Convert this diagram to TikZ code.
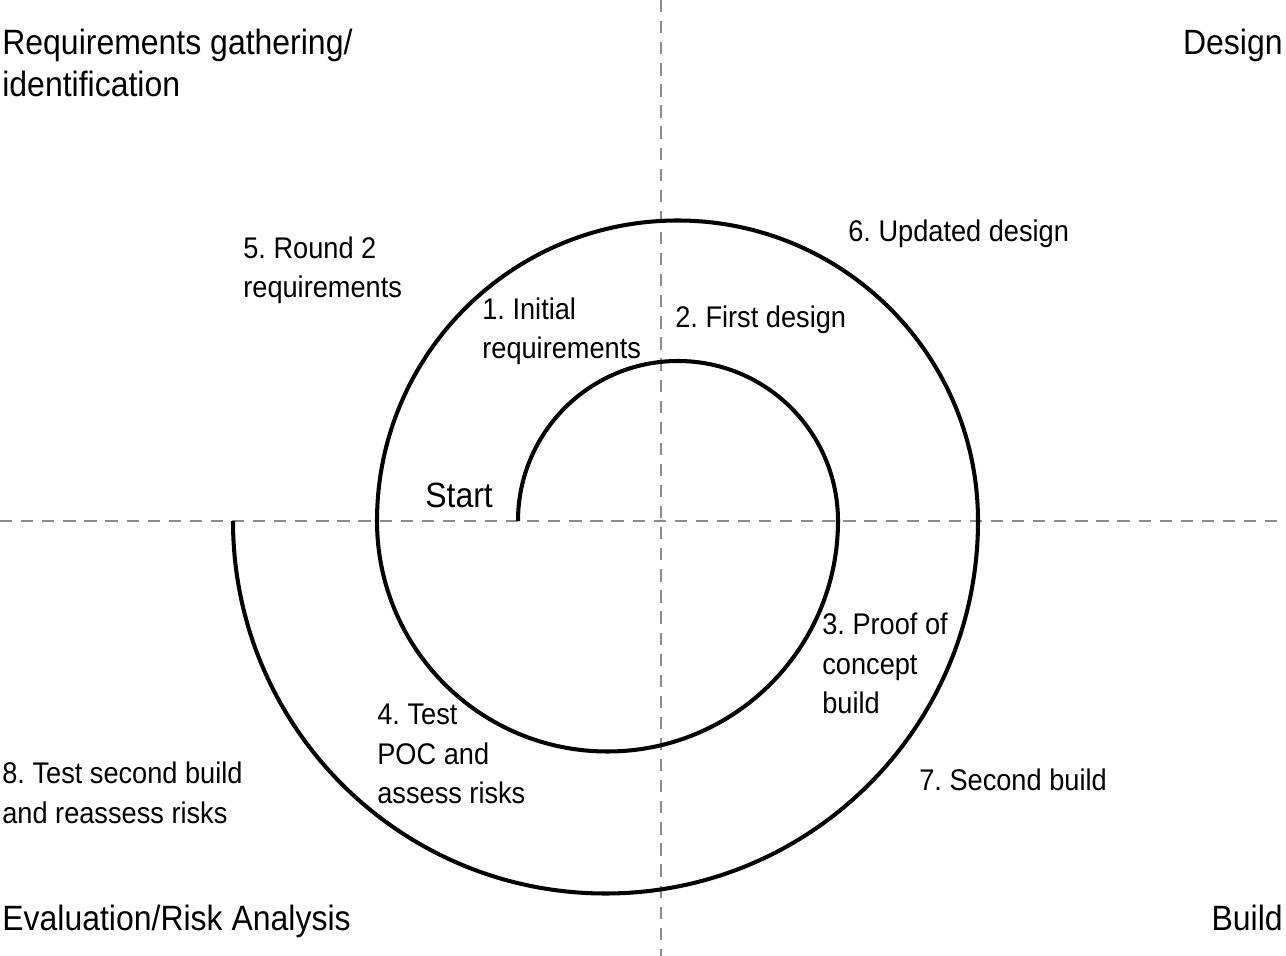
\documentclass[tikz,border=0pt]{standalone}
\usepackage{fontspec}
\setmainfont{Liberation Sans}[FakeStretch=0.91]
\frenchspacing
\begin{document}
\begin{tikzpicture}[x=0.02cm,y=-0.02cm,
  big/.style={inner sep=0,font=\fontsize{20}{24}\selectfont},
  lbl/.style={inner sep=0,font=\fontsize{17}{20}\selectfont,anchor=base west},
  axis/.style={draw=black!45,line width=1.2pt,dash pattern=on 7pt off 5pt},
  spiral/.style={line width=2.3pt}]
\useasboundingbox (0,0) rectangle (1286,956);
\coordinate (vt) at (661,0); \coordinate (vb) at (661,956);
\coordinate (hl) at (0,521); \coordinate (hr) at (1286,521);
\draw[axis] (vt) -- (vb);
\draw[axis] (hl) -- (hr);
\coordinate (s0) at (518,521);
\draw[spiral] (s0) arc[start angle=180,end angle=360,radius=160]
  arc[start angle=0,end angle=180,radius=230.5]
  arc[start angle=180,end angle=360,radius=300.5]
  arc[start angle=0,end angle=180,radius=372.5];
\node[big,anchor=base west] (r1) at (2,55) {Requirements gathering/};
\node[big,anchor=base west] (r2) at (2,97) {identification};
\node[big,anchor=base east] (d) at (1283,55) {Design};
\node[big,anchor=base west] (e) at (2,930) {Evaluation/Risk Analysis};
\node[big,anchor=base east] (b) at (1283,930) {Build};
\node[big,anchor=base west] (st) at (425,507) {Start};
\node[lbl] (a1) at (243,259) {5. Round 2};
\node[lbl] (a2) at (243,298) {requirements};
\node[lbl] (b1) at (482,320) {1. Initial};
\node[lbl] (b2) at (482,359) {requirements};
\node[lbl] (c1) at (675,328) {2. First design};
\node[lbl] (f1) at (848,242) {6. Updated design};
\node[lbl] (p1) at (822,634) {3. Proof of};
\node[lbl] (p2) at (822,674) {concept};
\node[lbl] (p3) at (822,713) {build};
\node[lbl] (t1) at (377,724) {4. Test};
\node[lbl] (t2) at (377,764) {POC and};
\node[lbl] (t3) at (377,803) {assess risks};
\node[lbl] (sb) at (919,790) {7. Second build};
\node[lbl] (g1) at (2,783) {8. Test second build};
\node[lbl] (g2) at (2,823) {and reassess risks};
\end{tikzpicture}
\end{document}
